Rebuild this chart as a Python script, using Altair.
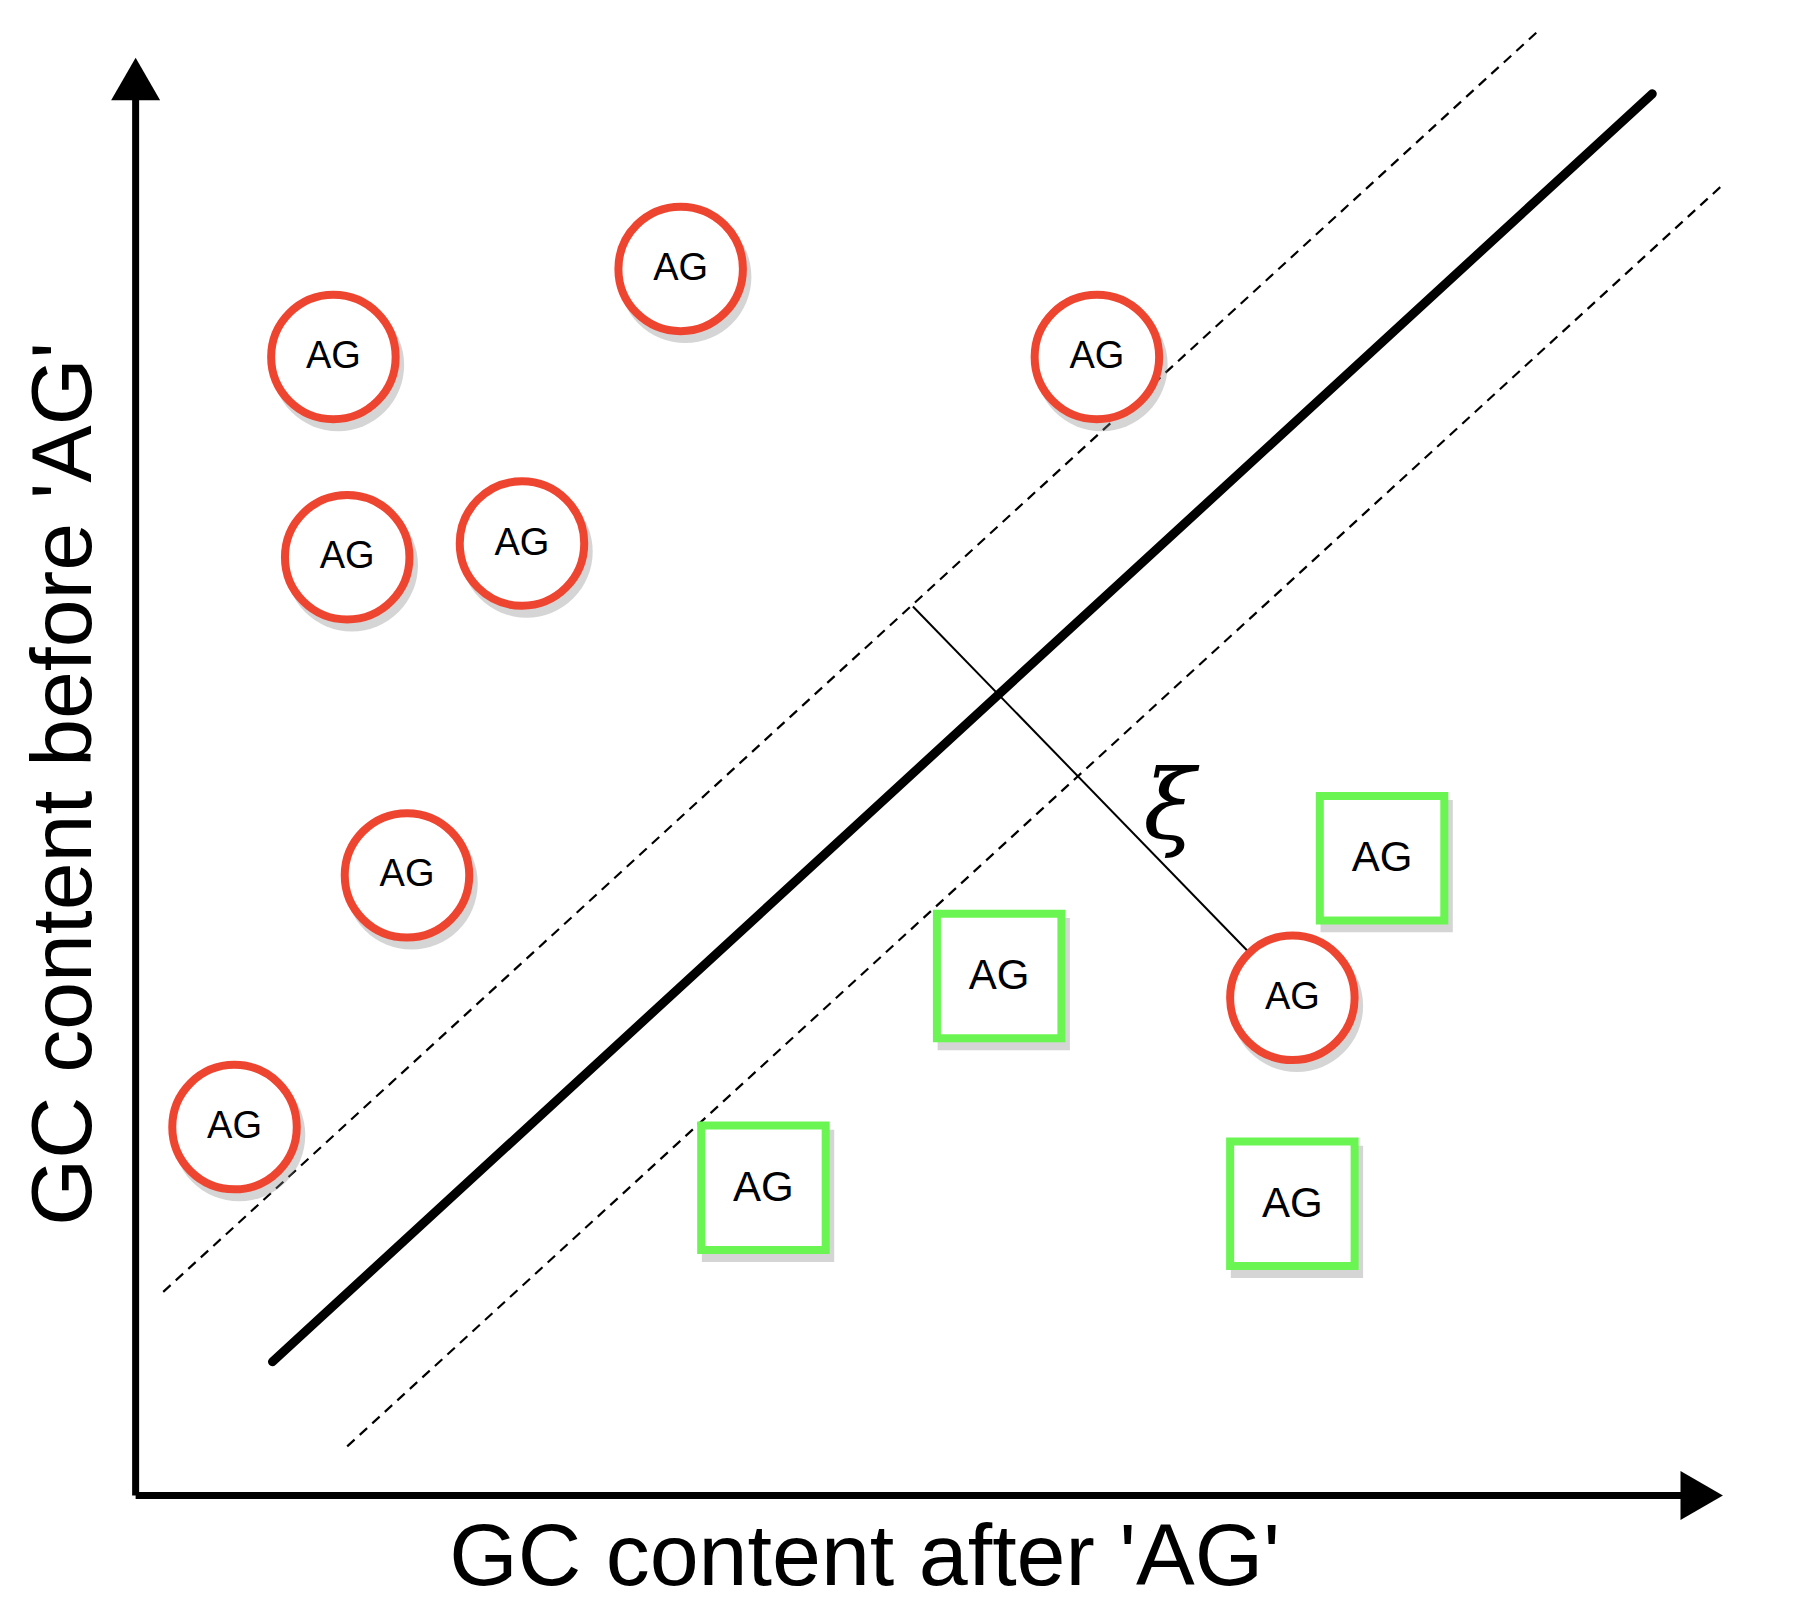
import altair as alt
import pandas as pd

# coordinates in the figure's own units (0..1555 across, 0..1400 down)
circle_x = [590, 288, 952, 300, 452, 352, 202, 1122]
circle_y = [228, 305, 305, 480, 468, 758, 978, 865]
square_x = [1200, 867, 662, 1122]
square_y = [743, 846, 1031, 1045]
label = "AG"

solid_line = dict(x=[235], y=[1183], x2=[1435], y2=[75])
dashed_lines = dict(x=[140, 300], y=[1122, 1257], x2=[1338, 1498], y2=[18, 153])
perp_line = dict(x=[792], y=[523], x2=[1085], y2=[826])
axes_lines = dict(x=[116, 116], y=[1300, 1300], x2=[116, 1460], y2=[70, 1300])

xs = alt.Scale(domain=[5, 1560])
ys = alt.Scale(domain=[1393, 0])


def enc(**kw):
    out = dict(x=alt.X("x:Q", scale=xs, axis=None), y=alt.Y("y:Q", scale=ys, axis=None))
    out.update(kw)
    return out


circles = pd.DataFrame({"x": circle_x, "y": circle_y, "t": label})
squares = pd.DataFrame({"x": square_x, "y": square_y, "t": label})
shadow_c = pd.DataFrame({"x": [v + 4 for v in circle_x], "y": [v + 7 for v in circle_y]})
shadow_s = pd.DataFrame({"x": [v + 4 for v in square_x], "y": [v + 7 for v in square_y]})

seg = lambda d: alt.Chart(pd.DataFrame(d))
seg_enc = enc(x2="x2:Q", y2="y2:Q")

layers = [
    seg(axes_lines).mark_rule(color="black", strokeWidth=7).encode(**seg_enc),
    alt.Chart(pd.DataFrame({"x": [116], "y": [62]})).mark_point(
        shape="triangle-up", filled=True, color="black", size=2400, opacity=1).encode(**enc()),
    alt.Chart(pd.DataFrame({"x": [1478], "y": [1300]})).mark_point(
        shape="triangle-right", filled=True, color="black", size=2400, opacity=1).encode(**enc()),
    seg(dashed_lines).mark_rule(color="black", strokeWidth=2.2, strokeDash=[10, 7]).encode(**seg_enc),
    seg(solid_line).mark_rule(color="black", strokeWidth=9, strokeCap="round").encode(**seg_enc),
    seg(perp_line).mark_rule(color="black", strokeWidth=2).encode(**seg_enc),
    alt.Chart(pd.DataFrame({"x": [1015], "y": [700], "t": ["ξ"]})).mark_text(
        font="DejaVu Serif", fontStyle="italic", fontSize=95, baseline="middle").encode(**enc(text="t:N")),
    alt.Chart(shadow_c).mark_point(shape="circle", filled=True, color="#888", opacity=0.35,
                                   size=17500).encode(**enc()),
    alt.Chart(shadow_s).mark_point(shape="square", filled=True, color="#888", opacity=0.35,
                                   size=17500).encode(**enc()),
    alt.Chart(circles).mark_point(shape="circle", filled=False, fill="white", fillOpacity=1,
                                  stroke="#ee4530", strokeWidth=8, opacity=1, size=15500).encode(**enc()),
    alt.Chart(squares).mark_point(shape="square", filled=False, fill="white", fillOpacity=1,
                                  stroke="#6af552", strokeWidth=8, opacity=1, size=15500).encode(**enc()),
    alt.Chart(circles).mark_text(font="Liberation Sans", fontSize=38, baseline="middle").encode(**enc(text="t:N")),
    alt.Chart(squares).mark_text(font="Liberation Sans", fontSize=42, baseline="middle").encode(**enc(text="t:N")),
    alt.Chart(pd.DataFrame({"x": [750], "y": [1355], "t": ["GC content after 'AG'"]})).mark_text(
        font="Liberation Sans", fontSize=88, baseline="middle").encode(**enc(text="t:N")),
    alt.Chart(pd.DataFrame({"x": [55], "y": [678], "t": ["GC content before 'AG'"]})).mark_text(
        font="Liberation Sans", fontSize=86, baseline="middle", angle=270).encode(**enc(text="t:N")),
]

chart = alt.layer(*layers).properties(
    width=1788, height=1594, autosize=alt.AutoSizeParams(type="none"), padding=0
).configure_view(stroke=None)

chart.save("out.html", embed_options={"renderer": "svg", "actions": False})
